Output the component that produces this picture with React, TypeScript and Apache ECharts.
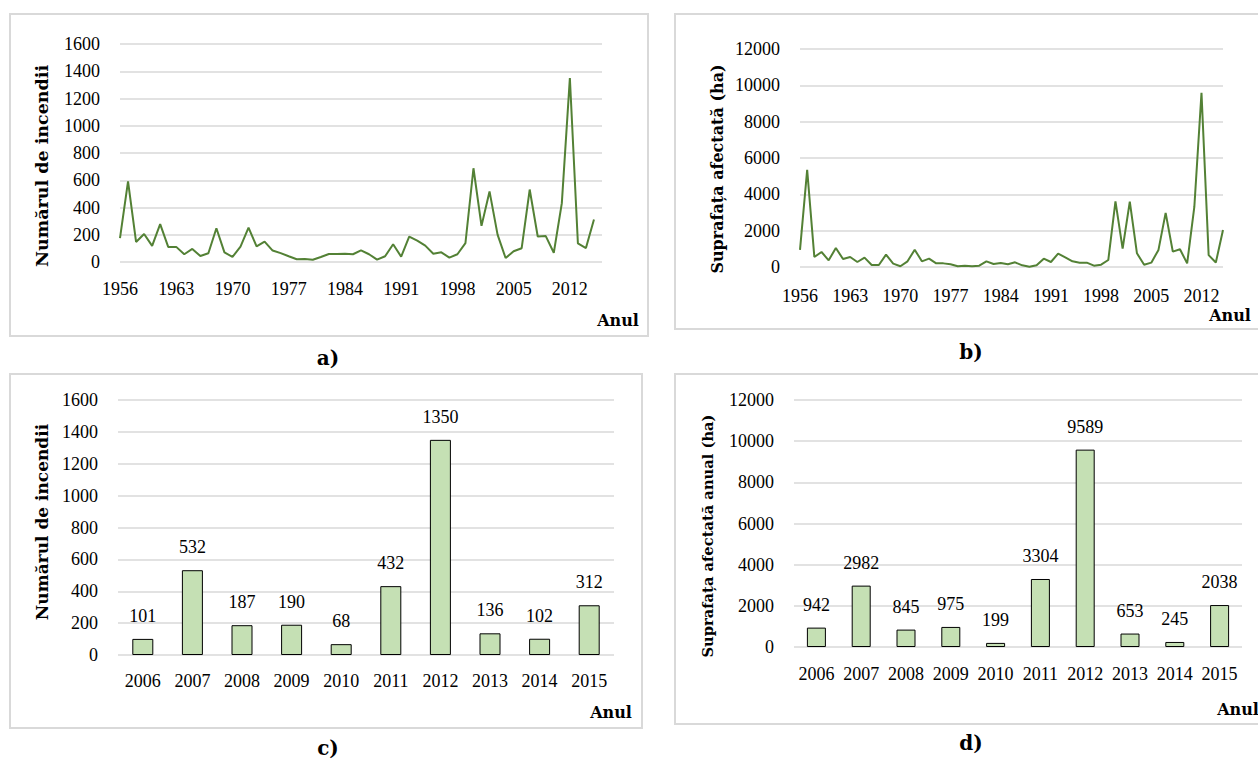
import React, { useEffect, useRef } from "react";
import * as echarts from "echarts";

// ---- data ----
const years: string[] = Array.from({ length: 60 }, (_, i) => String(1956 + i));

const fireCounts = [
  175, 592, 147, 206, 118, 278, 111, 111, 57, 96,
  44, 64, 248, 71, 37, 113, 253, 115, 150, 84,
  65, 42, 20, 22, 17, 37, 59, 59, 61, 57,
  86, 57, 17, 42, 130, 39, 187, 157, 120, 61,
  71, 32, 57, 138, 688, 265, 518, 201, 29, 79,
  101, 532, 187, 190, 68, 432, 1350, 136, 102, 312,
];

const areaAffected = [
  940, 5350, 550, 826, 367, 1046, 440, 550, 275, 514,
  110, 110, 680, 183, 40, 312, 954, 312, 459, 200,
  200, 147, 37, 73, 37, 73, 312, 165, 220, 147,
  257, 92, 10, 92, 459, 275, 734, 532, 312, 239,
  239, 73, 128, 385, 3615, 1009, 3597, 752, 128, 239,
  942, 2982, 845, 975, 199, 3304, 9589, 653, 245, 2038,
];

const recentYears = ["2006", "2007", "2008", "2009", "2010", "2011", "2012", "2013", "2014", "2015"];
const recentFires = [101, 532, 187, 190, 68, 432, 1350, 136, 102, 312];
const recentArea = [942, 2982, 845, 975, 199, 3304, 9589, 653, 245, 2038];

const titleFires = "Numărul de incendii";
const titleArea = "Suprafața afectată (ha)";
const titleAreaYear = "Suprafața afectată anual (ha)";
const xTitle = "Anul";

// ---- styles ----
const REG = "Liberation Serif";
const BOLD = "DejaVu Serif";
const LINE = "#538135";
const BAR = "#c5e0b4";
const GRIDC = "#d9d9d9";
const TXT = "#000000";

function App() {
  const ref = useRef<HTMLDivElement>(null);

  useEffect(() => {
    if (!ref.current) return;
    const chart = echarts.init(ref.current, undefined, { renderer: "svg" });

    const tickLabel = (margin: number, extra: any = {}) => ({
      color: TXT,
      fontFamily: REG,
      fontSize: 18,
      margin,
      ...extra,
    });

    const yAxis = (gi: number, max: number, interval: number) => ({
      type: "value",
      gridIndex: gi,
      min: 0,
      max,
      interval,
      axisLine: { show: false },
      axisTick: { show: false },
      axisLabel: tickLabel(20, { formatter: (v: number) => String(v) }),
      splitLine: { show: true, lineStyle: { color: GRIDC, width: 1.5 } },
    });

    const boxes = [
      [10, 14, 638, 322],
      [675, 14, 600, 315],
      [10, 374, 632, 354],
      [675, 374, 600, 350],
    ].map(([x, y, w, h]) => ({
      type: "rect",
      silent: true,
      shape: { x, y, width: w, height: h },
      style: { fill: "none", stroke: GRIDC, lineWidth: 2 },
    }));

    const txt = (
      text: string,
      x: number,
      y: number,
      size: number,
      rotate = false
    ) => ({
      type: "text",
      silent: true,
      x,
      y,
      rotation: rotate ? Math.PI / 2 : 0,
      style: {
        text,
        font: `bold ${size}px "${BOLD}"`,
        fill: TXT,
        textAlign: "center",
        textVerticalAlign: "middle",
      },
    });

    const barLabel = {
      show: true,
      position: "top",
      distance: 14,
      color: TXT,
      fontFamily: REG,
      fontSize: 18,
    };

    chart.setOption({
      animation: false,
      backgroundColor: "#ffffff",
      grid: [
        { left: 120, top: 44, width: 482, height: 218 },
        { left: 800, top: 49, width: 423, height: 218 },
        { left: 118, top: 400, width: 496, height: 255 },
        { left: 794, top: 400, width: 448, height: 247 },
      ],
      xAxis: [
        {
          type: "category",
          gridIndex: 0,
          data: [...years, ""],
          boundaryGap: false,
          axisLine: { show: false },
          axisTick: { show: false },
          axisLabel: tickLabel(18, { interval: 6 }),
        },
        {
          type: "category",
          gridIndex: 1,
          data: years,
          boundaryGap: false,
          axisLine: { show: false },
          axisTick: { show: false },
          axisLabel: tickLabel(20, { interval: 6 }),
        },
        {
          type: "category",
          gridIndex: 2,
          data: recentYears,
          axisLine: { show: false },
          axisTick: { show: false },
          axisLabel: tickLabel(17, { interval: 0 }),
        },
        {
          type: "category",
          gridIndex: 3,
          data: recentYears,
          axisLine: { show: false },
          axisTick: { show: false },
          axisLabel: tickLabel(18, { interval: 0 }),
        },
      ],
      yAxis: [
        yAxis(0, 1600, 200),
        yAxis(1, 12000, 2000),
        yAxis(2, 1600, 200),
        yAxis(3, 12000, 2000),
      ],
      series: [
        {
          type: "line",
          xAxisIndex: 0,
          yAxisIndex: 0,
          data: fireCounts,
          symbol: "none",
          lineStyle: { color: LINE, width: 2 },
        },
        {
          type: "line",
          xAxisIndex: 1,
          yAxisIndex: 1,
          data: areaAffected,
          symbol: "none",
          lineStyle: { color: LINE, width: 2 },
        },
        {
          type: "bar",
          xAxisIndex: 2,
          yAxisIndex: 2,
          data: recentFires,
          barWidth: 21,
          itemStyle: { color: BAR, borderColor: "#000", borderWidth: 1 },
          label: barLabel,
        },
        {
          type: "bar",
          xAxisIndex: 3,
          yAxisIndex: 3,
          data: recentArea,
          barWidth: 19,
          itemStyle: { color: BAR, borderColor: "#000", borderWidth: 1 },
          label: barLabel,
        },
      ],
      graphic: [
        ...boxes,
        txt(titleFires, 42, 166, 17.5, true),
        txt(titleArea, 717, 169, 16, true),
        txt(titleFires, 42, 522, 17, true),
        txt(titleAreaYear, 707, 536, 14.7, true),
        txt(xTitle, 618, 320, 16),
        txt(xTitle, 1230, 315, 16),
        txt(xTitle, 611, 712, 16),
        txt(xTitle, 1238, 709, 16),
        txt("a)", 328, 358, 20),
        txt("b)", 971, 352, 20),
        txt("c)", 328, 748, 20),
        txt("d)", 971, 743, 20),
      ],
    });

    return () => chart.dispose();
  }, []);

  return (
    <div
      ref={ref}
      style={{ position: "absolute", left: 0, top: 0, width: 1258, height: 760 }}
    />
  );
}

export default App;
